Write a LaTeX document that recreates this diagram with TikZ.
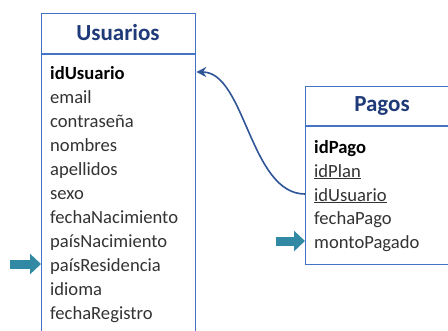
\documentclass[tikz,border=0pt]{standalone}
\usepackage{fontspec}
\setmainfont{Carlito}
\usetikzlibrary{arrows.meta}
\definecolor{boxblue}{HTML}{4472C4}
\definecolor{titleblue}{HTML}{1F3A78}
\definecolor{linkblue}{HTML}{2F5597}
\definecolor{teal}{HTML}{3189A4}
\definecolor{txt}{HTML}{333333}
\tikzset{
  tbox/.style={draw=boxblue, line width=1.3pt, fill=white, inner sep=0pt, anchor=north west},
  ttitle/.style={font=\bfseries\fontsize{23}{26}\selectfont, text=titleblue},
  fld/.style={anchor=west, inner sep=0pt, text height=16pt, text depth=2pt, font=\fontsize{18.6}{20}\selectfont, text=txt},
  key/.style={fld, text=black, font=\bfseries\fontsize{18.6}{20}\selectfont},
  fat/.style={draw=teal, line width=9pt, -{Triangle[length=11pt,width=20pt]}},
  link/.style={draw=linkblue, line width=1.6pt, -{Stealth[length=10pt,width=10pt]}}
}
\begin{document}
\begin{tikzpicture}[x=1pt,y=-1pt]
\useasboundingbox (0,0) rectangle (448,330);
\clip (0,0) rectangle (448,330);
% Usuarios
\node[tbox, minimum width=154pt, minimum height=340pt] (U) at (41,13) {};
\draw[boxblue, line width=1.3pt] (41,54) -- (195,54);
\node[ttitle] (Ut) at (118,33) {Usuarios};
\node[key] (u1) at (50,72) {idUsuario};
\node[fld] (u2) at (50,96) {email};
\node[fld] (u3) at (50,120) {contraseña};
\node[fld] (u4) at (50,144) {nombres};
\node[fld] (u5) at (50,168) {apellidos};
\node[fld] (u6) at (50,192) {sexo};
\node[fld] (u7) at (50,216) {fechaNacimiento};
\node[fld] (u8) at (50,240) {paísNacimiento};
\node[fld] (u9) at (50,264) {paísResidencia};
\node[fld] (u10) at (50,288) {idioma};
\node[fld] (u11) at (50,312) {fechaRegistro};
% Pagos
\node[tbox, minimum width=160pt, minimum height=178pt] (P) at (305,86) {};
\draw[boxblue, line width=1.3pt] (305,126) -- (465,126);
\node[ttitle] (Pt) at (382,106) {Pagos};
\node[key] (p1) at (314,146) {idPago};
\node[fld] (p2) at (314,170) {\underline{idPlan}};
\node[fld] (p3) at (314,194) {\underline{idUsuario}};
\node[fld] (p4) at (314,217) {fechaPago};
\node[fld] (p5) at (314,241) {montoPagado};
% connector
\draw[link] (P.west |- p3.west) .. controls +(-55,0) and +(49,0) .. (U.east |- u1.west);
% teal arrows
\coordinate (a1) at (10,264);
\coordinate (a2) at (276,241);
\draw[fat] (a1) -- (U.west |- u9.west);
\draw[fat] (a2) -- (P.west |- p5.west);
\end{tikzpicture}
\end{document}
